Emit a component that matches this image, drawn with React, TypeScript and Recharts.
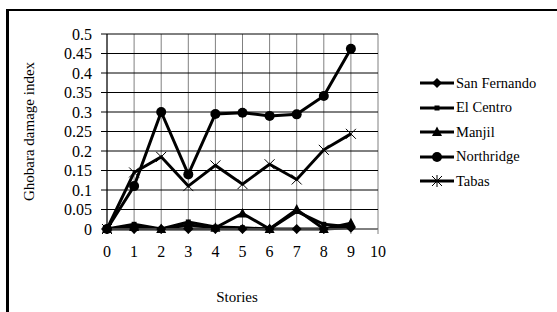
import { LineChart, Line, XAxis, YAxis, CartesianGrid } from 'recharts';

const stories = [0, 1, 2, 3, 4, 5, 6, 7, 8, 9];
const sanFernando = [0, 0, 0, 0, 0, 0, 0, 0, 0, 0.003];
const elCentro = [0, 0.012, 0, 0.018, 0.005, 0.003, 0, 0.045, 0.012, 0.005];
const manjil = [0, 0.005, 0, 0.01, 0.003, 0.04, 0, 0.05, 0, 0.015];
const northridge = [0, 0.11, 0.3, 0.14, 0.295, 0.298, 0.29, 0.294, 0.341, 0.462];
const tabas = [0, 0.145, 0.185, 0.11, 0.163, 0.115, 0.166, 0.127, 0.203, 0.244];

const xTicks = [0, 1, 2, 3, 4, 5, 6, 7, 8, 9, 10];
const yTicks = [0, 0.05, 0.1, 0.15, 0.2, 0.25, 0.3, 0.35, 0.4, 0.45, 0.5];
const yTickLabels = ['0', '0.05', '0.1', '0.15', '0.2', '0.25', '0.3', '0.35', '0.4', '0.45', '0.5'];

const data = stories.map((s, i) => ({
  story: s,
  sanFernando: sanFernando[i],
  elCentro: elCentro[i],
  manjil: manjil[i],
  northridge: northridge[i],
  tabas: tabas[i],
}));

const FONT = 'Liberation Serif, serif';

type Shape = 'diamond' | 'square' | 'triangle' | 'circle' | 'cross';

function marker(shape: Shape, cx: number, cy: number, key?: string | number) {
  switch (shape) {
    case 'diamond':
      return (
        <path key={key} d={`M${cx},${cy - 5}L${cx + 5},${cy}L${cx},${cy + 5}L${cx - 5},${cy}Z`} fill="#000" />
      );
    case 'square':
      return <rect key={key} x={cx - 2.5} y={cy - 2.5} width={5} height={5} fill="#000" />;
    case 'triangle':
      return (
        <path key={key} d={`M${cx},${cy - 5.5}L${cx + 5},${cy + 4}L${cx - 5},${cy + 4}Z`} fill="#000" />
      );
    case 'circle':
      return <circle key={key} cx={cx} cy={cy} r={5} fill="#000" />;
    case 'cross':
      return (
        <path
          key={key}
          d={`M${cx - 5},${cy - 5}L${cx + 5},${cy + 5}M${cx + 5},${cy - 5}L${cx - 5},${cy + 5}`}
          stroke="#000"
          strokeWidth={1}
          fill="none"
        />
      );
  }
}

const series: { key: string; name: string; shape: Shape }[] = [
  { key: 'sanFernando', name: 'San Fernando', shape: 'diamond' },
  { key: 'elCentro', name: 'El Centro', shape: 'square' },
  { key: 'manjil', name: 'Manjil', shape: 'triangle' },
  { key: 'northridge', name: 'Northridge', shape: 'circle' },
  { key: 'tabas', name: 'Tabas', shape: 'cross' },
];

function LegendBox() {
  return (
    <div style={{ position: 'absolute', left: 420, top: 71, fontFamily: FONT, fontSize: 14.5, color: '#000' }}>
      {series.map((s) => (
        <div key={s.key} style={{ display: 'flex', alignItems: 'center', height: 24.5 }}>
          <svg width={35} height={14} style={{ marginRight: 1 }}>
            <line x1={0} y1={7} x2={34} y2={7} stroke="#000" strokeWidth={3} />
            {s.shape === 'cross' ? (
              <path d="M12,2L22,12M22,2L12,12M17,1L17,13" stroke="#000" strokeWidth={1} fill="none" />
            ) : (
              marker(s.shape, 17, 7)
            )}
          </svg>
          <span style={{ fontFamily: FONT }}>{s.name}</span>
        </div>
      ))}
    </div>
  );
}

export default function App() {
  return (
    <div style={{ position: 'fixed', left: 0, top: 0, width: 557, height: 312, overflow: 'hidden', background: '#fff' }}>
      <div
        style={{
          position: 'absolute',
          left: 6,
          top: 9,
          width: 700,
          height: 500,
          borderLeft: '3px solid #000',
          borderTop: '2px solid #000',
        }}
      />
      <div style={{ position: 'absolute', left: 0, top: 0 }}>
        <LineChart width={557} height={312} data={data} margin={{ top: 34, right: 179, bottom: 0, left: 0 }}>
          <CartesianGrid horizontal={false} vertical stroke="#808080" strokeWidth={1} />
          <CartesianGrid horizontal vertical={false} stroke="#000" strokeWidth={1} />
          <XAxis
            dataKey="story"
            type="number"
            domain={[0, 10]}
            ticks={xTicks}
            interval={0}
            height={83}
            axisLine={{ stroke: '#808080' }}
            tickLine={{ stroke: '#808080' }}
            tickSize={5}
            tickMargin={12}
            tick={{ fill: '#000', fontFamily: FONT, fontSize: 16 }}
            label={({ viewBox }: any) => (
              <text x={237} y={viewBox.y + 73} textAnchor="middle" fontFamily={FONT} fontSize={15} fill="#000">
                Stories
              </text>
            )}
          />
          <YAxis
            type="number"
            domain={[0, 0.5]}
            ticks={yTicks}
            interval={0}
            width={107}
            axisLine={{ stroke: '#000' }}
            tickLine={{ stroke: '#000' }}
            tickSize={6}
            tickMargin={9}
            tickFormatter={(v: number) => yTickLabels[yTicks.indexOf(v)] ?? String(v)}
            tick={{ fill: '#000', fontFamily: FONT, fontSize: 16 }}
            label={({ viewBox }: any) => (
              <text
                x={34}
                y={viewBox.y + viewBox.height / 2}
                transform={`rotate(-90, 34, ${viewBox.y + viewBox.height / 2})`}
                textAnchor="middle"
                fontFamily={FONT}
                fontSize={15}
                fill="#000"
              >
                Ghobara damage index
              </text>
            )}
          />
          {series.map((s) => (
            <Line
              key={s.key}
              dataKey={s.key}
              name={s.name}
              type="linear"
              stroke="#000"
              strokeWidth={3}
              isAnimationActive={false}
              dot={(p: any) => marker(s.shape, p.cx, p.cy, `${s.key}-${p.index}`)}
              activeDot={false}
            />
          ))}
        </LineChart>
      </div>
      <LegendBox />
    </div>
  );
}
